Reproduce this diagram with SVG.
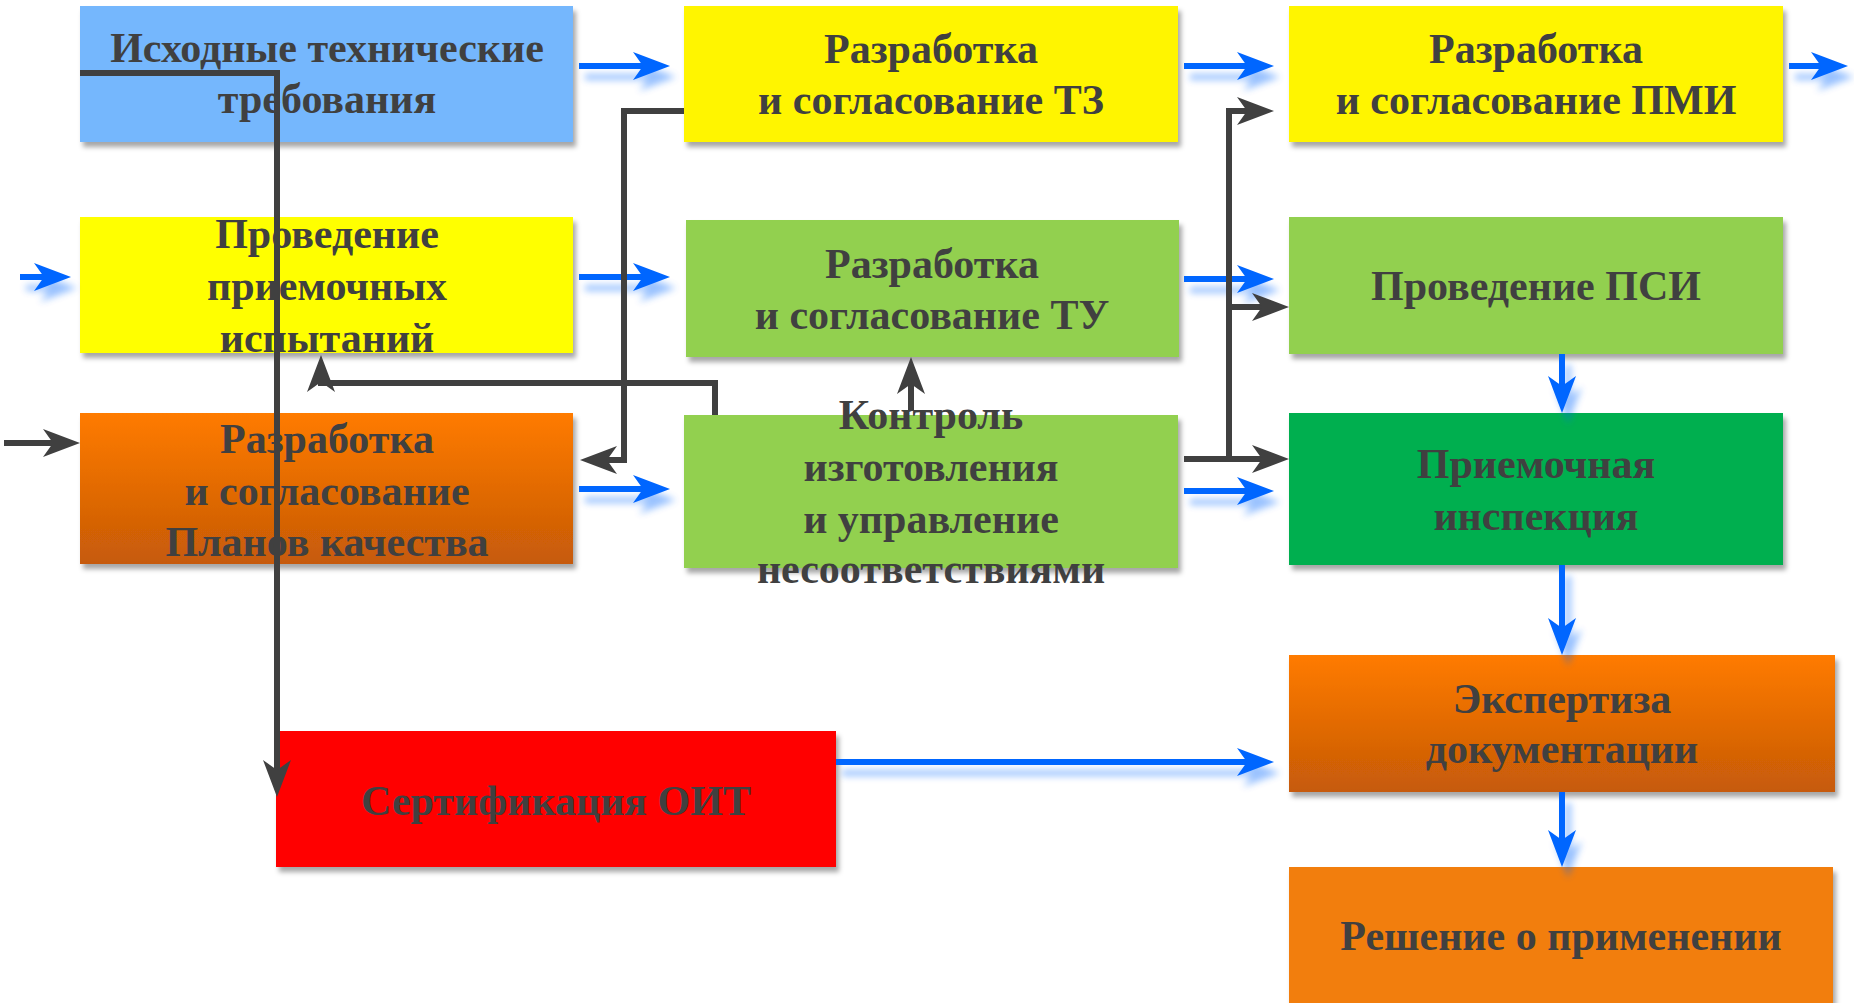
<svg xmlns="http://www.w3.org/2000/svg" width="1854" height="1003" viewBox="0 0 1854 1003">
<style>
text{font-family:"Liberation Serif","Times New Roman",serif;font-weight:bold;font-size:42px;fill:#404040;text-anchor:middle}
.box{filter:url(#bs)}
.blue{stroke:#0066FF;stroke-width:6;fill:none;marker-end:url(#ab)}
.dark{stroke:#404040;stroke-width:6;fill:none;stroke-linejoin:miter}
.dm{marker-end:url(#ad)}
</style>
<defs>
<filter id="bs" x="-10%" y="-10%" width="125%" height="130%">
<feDropShadow dx="3" dy="5" stdDeviation="2.5" flood-color="#000" flood-opacity="0.35"/>
</filter>
<filter id="gs" filterUnits="userSpaceOnUse" x="0" y="0" width="1854" height="1003">
<feGaussianBlur in="SourceGraphic" stdDeviation="3.5" result="bl"/>
<feOffset in="bl" dx="6" dy="11" result="of"/>
<feComponentTransfer in="of" result="sh"><feFuncA type="linear" slope="0.4"/></feComponentTransfer>
<feMerge><feMergeNode in="sh"/><feMergeNode in="SourceGraphic"/></feMerge>
</filter>
<marker id="ab" viewBox="0 0 37 28" refX="10" refY="14" markerWidth="37" markerHeight="28" markerUnits="userSpaceOnUse" orient="auto">
<path d="M37,14 L0,0 L10,14 L0,28 Z" fill="#0066FF"/>
</marker>
<marker id="ad" viewBox="0 0 37 28" refX="10" refY="14" markerWidth="37" markerHeight="28" markerUnits="userSpaceOnUse" orient="auto">
<path d="M37,14 L0,0 L10,14 L0,28 Z" fill="#404040"/>
</marker>
<linearGradient id="og" x1="0" y1="0" x2="0" y2="1">
<stop offset="0" stop-color="#FF7B00"/><stop offset="1" stop-color="#C65A08"/>
</linearGradient>
</defs>

<g id="n-iskhodnye"><rect class="box" x="80" y="6" width="493" height="136" fill="#74B7FD"/>
<text x="327" y="62">Исходные технические</text><text x="327" y="113">требования</text></g>

<g id="n-provedenie-pi"><rect class="box" x="80" y="217" width="493" height="136" fill="#FFFF00"/>
<text x="327" y="248">Проведение</text><text x="327" y="300">приемочных</text><text x="327" y="352">испытаний</text></g>

<g id="n-plany"><rect class="box" x="80" y="413" width="493" height="151" fill="url(#og)"/>
<text x="327" y="453">Разработка</text><text x="327" y="505">и согласование</text><text x="327" y="556">Планов качества</text></g>

<g id="n-sert"><rect class="box" x="276" y="731" width="560" height="136" fill="#FF0000"/>
<text x="556" y="815">Сертификация ОИТ</text></g>

<g id="n-tz"><rect class="box" x="684" y="6" width="494" height="136" fill="#FFF500"/>
<text x="931" y="63">Разработка</text><text x="931" y="114">и согласование ТЗ</text></g>

<g id="n-tu"><rect class="box" x="686" y="220" width="493" height="137" fill="#92D050"/>
<text x="932" y="278">Разработка</text><text x="932" y="329">и согласование ТУ</text></g>

<g id="n-kontrol"><rect class="box" x="684" y="415" width="494" height="153" fill="#92D050"/>
<text x="931" y="429">Контроль</text><text x="931" y="481">изготовления</text><text x="931" y="533">и управление</text><text x="931" y="583">несоответствиями</text></g>

<g id="n-pmi"><rect class="box" x="1289" y="6" width="494" height="136" fill="#FFF500"/>
<text x="1536" y="63">Разработка</text><text x="1536" y="114">и согласование ПМИ</text></g>

<g id="n-psi"><rect class="box" x="1289" y="217" width="494" height="137" fill="#92D050"/>
<text x="1536" y="300">Проведение ПСИ</text></g>

<g id="n-inspekciya"><rect class="box" x="1289" y="413" width="494" height="152" fill="#00AF50"/>
<text x="1536" y="478">Приемочная</text><text x="1536" y="530">инспекция</text></g>

<g id="n-ekspertiza"><rect class="box" x="1289" y="655" width="546" height="137" fill="url(#og)"/>
<text x="1562" y="713">Экспертиза</text><text x="1562" y="763">документации</text></g>

<g id="n-reshenie"><rect class="box" x="1289" y="867" width="544" height="140" fill="#F27E0A"/>
<text x="1561" y="950">Решение о применении</text></g>

<g id="connectors">
<g id="blue-arrows" filter="url(#gs)">
<path class="blue" d="M579,66 H643"/>
<path class="blue" d="M20,277 H44"/>
<path class="blue" d="M579,277 H643"/>
<path class="blue" d="M579,489 H643"/>
<path class="blue" d="M1184,66 H1247"/>
<path class="blue" d="M1184,279 H1247"/>
<path class="blue" d="M1184,491 H1247"/>
<path class="blue" d="M1789,66 H1821"/>
<path class="blue" d="M1562,354 V386"/>
<path class="blue" d="M1562,565 V628"/>
<path class="blue" d="M1562,792 V840"/>
<path class="blue" d="M836,762 H1247"/>
</g>
<g id="dark-arrows">
<path class="dark dm" d="M80,73 H277 V770"/>
<path class="dark dm" d="M715,415 V383 H321 V382"/>
<path class="dark dm" d="M684,111 H624 V460 H607"/>
<path class="dark dm" d="M1184,459 H1262"/>
<path class="dark dm" d="M1229,459 V111 H1247"/>
<path class="dark dm" d="M1229,307 H1262"/>
<path class="dark dm" d="M911,411 V384"/>
<path class="dark dm" d="M4,443 H53"/>
</g>
</g>
</svg>
